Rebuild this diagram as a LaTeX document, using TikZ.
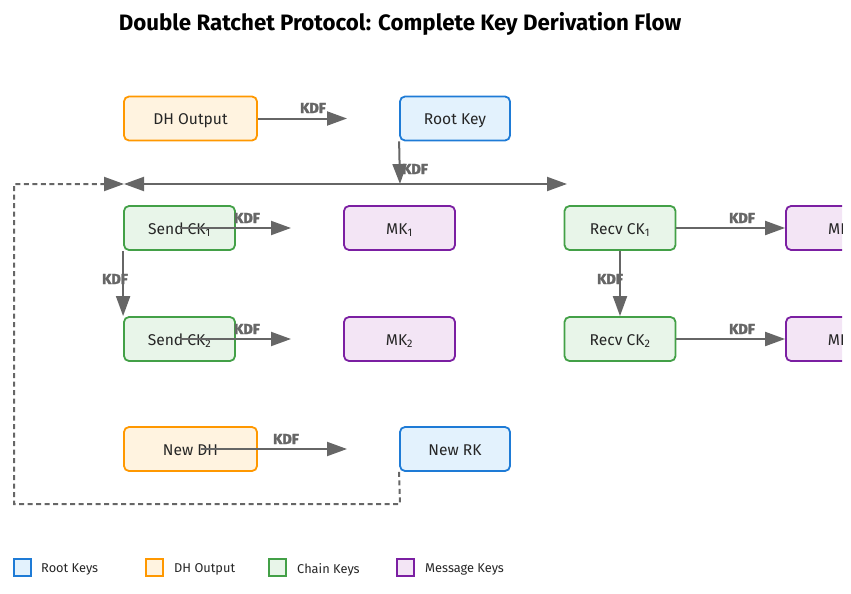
\documentclass[tikz,border=0pt]{standalone}
\usepackage{fontspec}
\setmainfont{Fira Sans}
\newfontfamily\kdffont{Fira Sans}[BoldFeatures={FakeBold=3}]
\usetikzlibrary{arrows.meta}
\definecolor{arrgray}{HTML}{666666}
\definecolor{bluebd}{HTML}{1E7BD6}
\definecolor{bluefl}{HTML}{E3F2FD}
\definecolor{orabd}{HTML}{FF9800}
\definecolor{orafl}{HTML}{FFF3E0}
\definecolor{grnbd}{HTML}{43A047}
\definecolor{grnfl}{HTML}{E8F5E9}
\definecolor{purbd}{HTML}{7B1FA2}
\definecolor{purfl}{HTML}{F3E5F5}
\begin{document}
\begin{tikzpicture}[x=1pt,y=-1pt,
  keybox/.style={draw, rounded corners=5pt, line width=1.8pt, minimum height=44pt, inner sep=0pt, text height=13pt, text depth=1pt, text=black!85, font=\fontsize{15.6}{18}\selectfont},
  rootk/.style={keybox, draw=bluebd, fill=bluefl, minimum width=110pt},
  dhk/.style={keybox, draw=orabd, fill=orafl, minimum width=133pt},
  chaink/.style={keybox, draw=grnbd, fill=grnfl, minimum width=111pt},
  msgk/.style={keybox, draw=purbd, fill=purfl, minimum width=111pt},
  arr/.style={draw=arrgray, line width=2pt, -{Triangle[length=20pt,width=14pt]}},
  dashline/.style={draw=arrgray, line width=2pt, dash pattern=on 5pt off 3.5pt},
  kdf/.style={text=arrgray, font=\kdffont\bfseries\fontsize{14.5}{14}\selectfont, inner sep=0pt},
  legsq/.style={draw, line width=1.3pt, minimum size=17pt, inner sep=0pt},
  legtxt/.style={anchor=west, inner sep=0pt, text=black!85, font=\fontsize{12.8}{14}\selectfont}
]
\useasboundingbox (0,0) rectangle (851,594);

\node[font=\bfseries\fontsize{22.3}{26}\selectfont] (title) at (400,24) {Double Ratchet Protocol: Complete Key Derivation Flow};

% nodes
\node[dhk] (dh) at (190.5,118.5) {DH Output};
\node[rootk] (rk) at (455,118.5) {Root Key};
\node[chaink] (sck1) at (179.5,228) {Send CK\textsubscript{1}};
\node[msgk] (mk1) at (399.5,228) {MK\textsubscript{1}};
\node[chaink] (rck1) at (620,228) {Recv CK\textsubscript{1}};
\node[chaink] (sck2) at (179.5,339) {Send CK\textsubscript{2}};
\node[msgk] (mk2) at (399.5,339) {MK\textsubscript{2}};
\node[chaink] (rck2) at (620,339) {Recv CK\textsubscript{2}};
\node[dhk] (ndh) at (190.5,449) {New DH};
\node[rootk] (nrk) at (455,449) {New RK};
\begin{scope}
\clip (0,0) rectangle (842,594);
\node[msgk] (rmk1) at (841.5,228) {MK\textsubscript{1}};
\node[msgk] (rmk2) at (841.5,339) {MK\textsubscript{2}};
\end{scope}

% coordinates
\coordinate (dhend) at (347,118.5);
\coordinate (junc) at (400,184);
\coordinate (lend) at (124,184);
\coordinate (rend) at (567,184);
\coordinate (s1end) at (291,228);
\coordinate (s2end) at (291,339);
\coordinate (ndhend) at (347,449);
\coordinate (d1) at (400,504);
\coordinate (d2) at (14,504);
\coordinate (d3) at (14,184);
\coordinate (d4) at (104,184);

% dashed feedback
\draw[dashline] (nrk.south west) -- (d1) -- (d2) -- (d3) -- (d4);
\draw[arr] (d4) -- (lend);

% arrows
\draw[arr] (dh.east) -- (dhend);
\draw[arr] (rk.south west) -- (junc);
\draw[arr] (junc) -- (lend);
\draw[arr] (junc) -- (rend);
\draw[arr] (sck1.center) -- (s1end);
\draw[arr] (sck1.south west) -- (sck2.north west);
\draw[arr] (sck2.center) -- (s2end);
\draw[arr] ([xshift=10pt]ndh.center) -- (ndhend);
\draw[arr] (rck1.east) -- (rmk1.west);
\draw[arr] (rck1.south) -- (rck2.north);
\draw[arr] (rck2.east) -- (rmk2.west);

% KDF labels
\node[kdf] (k1) at (313,108) {KDF};
\node[kdf] (k2) at (415,169) {KDF};
\node[kdf] (k3) at (247,218) {KDF};
\node[kdf] (k4) at (115,279) {KDF};
\node[kdf] (k5) at (247,329) {KDF};
\node[kdf] (k6) at (286,439) {KDF};
\node[kdf] (k7) at (742,218) {KDF};
\node[kdf] (k8) at (610,279) {KDF};
\node[kdf] (k9) at (742,329) {KDF};

% legend
\node[legsq, draw=bluebd, fill=bluefl] (l1) at (22.5,567.5) {};
\node[legtxt] (lt1) at (41,569.5) {Root Keys};
\node[legsq, draw=orabd, fill=orafl] (l2) at (154.5,567.5) {};
\node[legtxt] (lt2) at (174,569.5) {DH Output};
\node[legsq, draw=grnbd, fill=grnfl] (l3) at (277.5,567.5) {};
\node[legtxt] (lt3) at (297,569.5) {Chain Keys};
\node[legsq, draw=purbd, fill=purfl] (l4) at (405.5,567.5) {};
\node[legtxt] (lt4) at (425,569.5) {Message Keys};
\end{tikzpicture}
\end{document}
